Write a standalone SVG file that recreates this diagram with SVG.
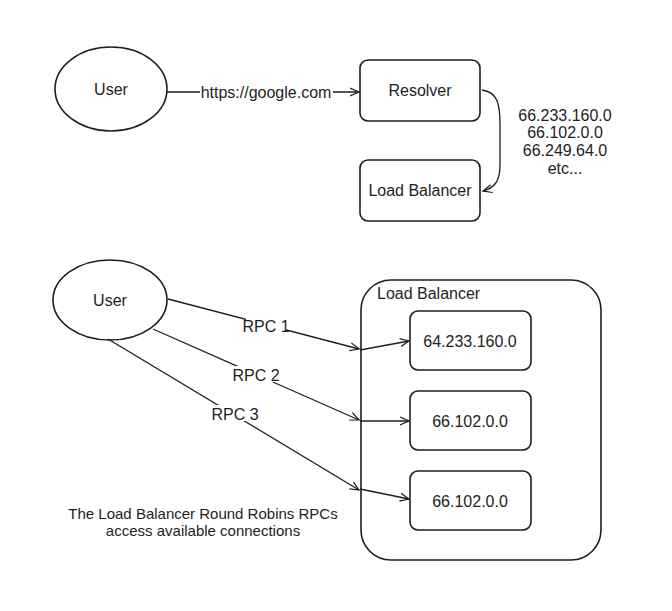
<svg xmlns="http://www.w3.org/2000/svg" width="672" height="611" viewBox="0 0 672 611">
<defs>
<marker id="ah" viewBox="0 0 10 10" refX="9" refY="5" markerWidth="10" markerHeight="10" markerUnits="userSpaceOnUse" orient="auto">
<path d="M0,1 L9,5 L0,9" fill="none" stroke="#1e1e1e" stroke-width="1.2"/>
</marker>
</defs>
<style>
.shape{fill:#fff;stroke:#1e1e1e;stroke-width:1.6}
.conn{fill:none;stroke:#1e1e1e;stroke-width:1.3;marker-end:url(#ah)}
text{font-family:"Liberation Sans","DejaVu Sans",sans-serif;font-size:16px;fill:#1e1e1e}
.c{text-anchor:middle}
.cap{font-size:15px}
.lbl{fill:#fff;stroke:none}
</style>
<rect width="672" height="611" fill="#fff"/>

<g id="user-top">
<ellipse class="shape" cx="111" cy="89" rx="56" ry="42"/>
<text class="c" x="111" y="95">User</text>
</g>
<g id="resolver">
<rect class="shape" x="360" y="60" width="120" height="61" rx="8"/>
<text class="c" x="420" y="96">Resolver</text>
</g>
<g id="lb-top">
<rect class="shape" x="360" y="160" width="120" height="61" rx="8"/>
<text class="c" x="420" y="196">Load Balancer</text>
</g>
<g id="ip-note">
<text class="c" x="565" y="121">66.233.160.0</text>
<text class="c" x="565" y="138">66.102.0.0</text>
<text class="c" x="565" y="156">66.249.64.0</text>
<text class="c" x="565" y="174">etc...</text>
</g>

<g id="user-bottom">
<ellipse class="shape" cx="110" cy="300" rx="57" ry="40"/>
<text class="c" x="110" y="306">User</text>
</g>
<g id="lb-container">
<rect class="shape" x="361" y="280" width="240" height="280" rx="30"/>
<text x="377" y="299">Load Balancer</text>
</g>
<g id="server-1">
<rect class="shape" x="410" y="311" width="121" height="59" rx="8"/>
<text class="c" x="470" y="347">64.233.160.0</text>
</g>
<g id="server-2">
<rect class="shape" x="410" y="391" width="121" height="59" rx="8"/>
<text class="c" x="470" y="427">66.102.0.0</text>
</g>
<g id="server-3">
<rect class="shape" x="410" y="471" width="121" height="59" rx="8"/>
<text class="c" x="470" y="507">66.102.0.0</text>
</g>
<g id="caption">
<text class="c cap" x="203" y="519">The Load Balancer Round Robins RPCs</text>
<text class="c cap" x="203" y="536">access available connections</text>
</g>

<g id="connectors">
<path class="conn" d="M167,92 L359,92"/>
<rect class="lbl" x="200" y="82" width="133" height="20"/>
<text class="c" x="266" y="98">https://google.com</text>

<path class="conn" d="M482,90 C498,92 500,105 500,125 L500,165 C500,182 494,188 483,191"/>

<path class="conn" d="M168,299 L359,349"/>
<path class="conn" d="M360,350 L409,341"/>
<rect class="lbl" x="246" y="317" width="40" height="16"/>
<text class="c" x="266" y="332">RPC 1</text>

<path class="conn" d="M153,329 L359,420"/>
<path class="conn" d="M360,421 L409,421"/>
<rect class="lbl" x="236" y="366" width="40" height="16"/>
<text class="c" x="256" y="381">RPC 2</text>

<path class="conn" d="M108,339 L359,490"/>
<path class="conn" d="M360,489 L409,499"/>
<rect class="lbl" x="215" y="405" width="40" height="16"/>
<text class="c" x="235" y="420">RPC 3</text>
</g>
</svg>
